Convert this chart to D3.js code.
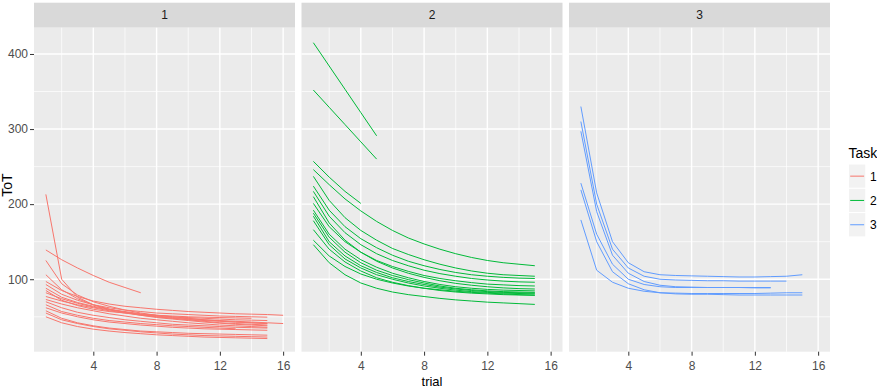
<!DOCTYPE html>
<html>
<head>
<meta charset="utf-8">
<script src="https://cdn.jsdelivr.net/npm/d3@7"></script>
<style>
  body { margin: 0; background: #fff; }
  svg { display: block; }
  text { font-family: "Liberation Sans Narrow", "Arial Narrow", "Liberation Sans", Arial, sans-serif; }
</style>
</head>
<body>
<div id="chart"></div>
<script>

// trial numbers, each series starts at trial 1
var trials = [1, 2, 3, 4, 5, 6, 7, 8, 9, 10, 11, 12, 13, 14, 15, 16];
var tasks = ["1", "2", "3"];
var taskColors = ["#F8766D", "#00BA38", "#619CFF"];
var xTicks = [4, 8, 12, 16];
var xMinor = [2, 6, 10, 14];
var yTicks = [100, 200, 300, 400];
var yMinor = [50, 150, 250, 350];

// ToT per participant, task 1
var task1 = [
  [213, 100, 76, 66, 60, 56, 53, 50, 48, 46.5, 45, 44, 43, 42, 41],
  [139, 126, 115, 105, 96, 89, 82],
  [125, 94, 79, 70, 64, 59, 55, 52, 50, 48, 46, 44.5, 43, 42, 41],
  [106, 86, 74, 66, 60, 56, 52, 49, 47, 45, 43, 41.5, 40, 39, 38],
  [97, 85, 77, 71, 67, 64, 62, 60, 58.5, 57, 56, 55, 54, 53.5, 53, 52],
  [93, 80, 72, 66, 62, 59, 57, 55, 54, 53, 52, 51, 50.5, 50, 49.5],
  [88, 76, 69, 64, 60, 57, 54, 52, 50, 49, 48, 47, 46, 45.5, 45],
  [85, 72, 65, 60, 57, 55, 53, 52, 51, 50, 49.5, 49, 48.5, 48],
  [82, 74, 68, 63, 59, 56, 53, 51, 49, 47.5, 46, 45, 44, 43, 42, 41],
  [77, 71, 66, 62, 58, 55, 52, 50, 48, 46, 44, 42, 41, 40, 39],
  [73, 67, 62, 58, 54, 51, 48, 46, 44, 42, 40.5, 39, 38, 37, 36],
  [70, 62, 56, 52, 49, 46, 44, 42, 40, 39, 38, 37, 36, 35.5, 35],
  [66, 57, 52, 48, 45, 43, 41, 39.5, 38, 37, 36, 35, 34],
  [62, 55, 50, 46, 43, 41, 39, 37.5, 36, 35, 34, 33.5, 33, 32.5, 32],
  [58, 48, 42, 38, 35, 33, 31, 30, 29, 28, 27.5, 27, 26.5, 26, 25.5],
  [55, 46, 41, 37, 34, 32, 30, 28.5, 27, 26, 25, 24.5, 24, 23.5, 23],
  [50, 42, 37, 33.5, 31, 29, 27.5, 26, 25, 24, 23, 22.5, 22, 21.5, 21]
];

// task 2
var task2 = [
  [415, 384, 353, 322, 291],
  [352, 329, 306, 283, 260],
  [257, 236, 217, 201],
  [246, 226, 207, 191, 177, 165, 155, 147, 140, 134, 129, 125, 122, 120, 118],
  [237, 205, 182, 165, 152, 141, 133, 126, 120, 115, 111, 108, 106, 105, 104],
  [224, 192, 170, 154, 142, 132, 124, 118, 113, 109, 106, 104, 102.5, 101.5, 101],
  [217, 184, 162, 146, 134, 125, 118, 112, 107.5, 104, 101, 99, 97.5, 96.5, 96],
  [210, 175, 152, 136, 124, 115, 108, 102.5, 98, 94.5, 92, 90, 88.5, 87.5, 87],
  [201, 170, 150, 136, 125, 117, 110.5, 105, 101, 98, 95.5, 93.5, 92.5, 91.5, 91],
  [192, 160, 140, 126, 116, 108, 102, 97, 93, 90, 88, 86.5, 85.5, 85, 84.5],
  [188, 156, 136, 122, 112, 105, 99.5, 95, 91, 88, 86, 84.5, 83.5, 83, 82.5],
  [184, 150, 131, 118, 109, 102, 97, 93, 89.5, 87, 85, 83.5, 82.5, 82, 81.5],
  [178, 146, 127, 115, 106, 100, 95, 91, 88, 85.5, 83.5, 82.5, 81.5, 81, 80.5],
  [166, 140, 123, 111, 102, 96, 91.5, 88, 85, 83, 81.5, 80.5, 79.5, 79, 78.5],
  [152, 131, 117, 107, 100, 95, 91, 88, 86, 84, 82.5, 81.5, 80.5, 79.5, 79],
  [146, 122, 106, 95, 88, 83, 79.5, 77, 74.5, 72.5, 71, 69.5, 68.5, 67.5, 66.5]
];

// task 3
var task3 = [
  [330, 215, 150, 122, 110, 106, 105, 104.5, 104, 103.5, 103, 103, 103.5, 104, 106],
  [310, 200, 140, 115, 104, 100, 99, 98.5, 98, 98, 97.5, 97.5, 97.5, 97.5],
  [297, 190, 132, 108, 97, 92, 90, 89.5, 89, 89, 89, 89, 89],
  [228, 160, 120, 100, 93, 90, 89, 89, 89, 89, 89, 88.5, 88.5],
  [219, 150, 110, 94, 86, 82, 80.5, 80, 80, 79.5, 79, 79, 79, 79, 79],
  [179, 112, 96, 88, 84, 82, 81.5, 81, 81, 81, 81, 81, 81.5, 82, 82]
];

var taskData = [task1, task2, task3];

var W = 877, H = 388;
var panelLeft = 34, panelW = 261, panelGap = 6.5;
var stripTop = 2.7, stripH = 25, panelTop = stripTop + stripH, panelBottom = 351.7;
var panelH = panelBottom - panelTop;

var svg = d3.select("#chart").append("svg")
    .attr("width", W)
    .attr("height", H);

var x = d3.scaleLinear().domain([0.25, 16.75]).range([0, panelW]);
var y = d3.scaleLinear().domain([3.5, 435]).range([panelH, 0]);

var line = d3.line()
    .x(function(d, i) { return x(trials[i]); })
    .y(function(d) { return y(d); });

tasks.forEach(function(task, k) {
  var px = panelLeft + k * (panelW + panelGap);

  // strip
  svg.append("rect")
      .attr("x", px).attr("y", stripTop)
      .attr("width", panelW).attr("height", stripH)
      .attr("fill", "#D9D9D9");
  svg.append("text")
      .attr("x", px + panelW / 2).attr("y", stripTop + stripH / 2 + 4)
      .attr("text-anchor", "middle")
      .style("font-size", "12px")
      .attr("fill", "#1A1A1A")
      .text(task);

  var g = svg.append("g").attr("transform", "translate(" + px + "," + panelTop + ")");

  g.append("rect")
      .attr("width", panelW).attr("height", panelH)
      .attr("fill", "#EBEBEB");

  // grid
  g.selectAll(".ymin").data(yMinor).enter().append("line")
      .attr("x1", 0).attr("x2", panelW)
      .attr("y1", function(d) { return y(d); }).attr("y2", function(d) { return y(d); })
      .attr("stroke", "#fff").attr("stroke-width", 0.7);
  g.selectAll(".xmin").data(xMinor).enter().append("line")
      .attr("y1", 0).attr("y2", panelH)
      .attr("x1", function(d) { return x(d); }).attr("x2", function(d) { return x(d); })
      .attr("stroke", "#fff").attr("stroke-width", 0.7);
  g.selectAll(".ymaj").data(yTicks).enter().append("line")
      .attr("x1", 0).attr("x2", panelW)
      .attr("y1", function(d) { return y(d); }).attr("y2", function(d) { return y(d); })
      .attr("stroke", "#fff").attr("stroke-width", 1.4);
  g.selectAll(".xmaj").data(xTicks).enter().append("line")
      .attr("y1", 0).attr("y2", panelH)
      .attr("x1", function(d) { return x(d); }).attr("x2", function(d) { return x(d); })
      .attr("stroke", "#fff").attr("stroke-width", 1.4);

  // lines
  g.selectAll(".tot").data(taskData[k]).enter().append("path")
      .attr("d", line)
      .attr("fill", "none")
      .attr("stroke", taskColors[k])
      .attr("stroke-width", 1);

  // x axis
  var xa = g.append("g")
      .attr("transform", "translate(0," + panelH + ")")
      .call(d3.axisBottom(x).tickValues(xTicks).tickSize(4).tickPadding(6));
  xa.select(".domain").remove();
  xa.selectAll("line").attr("stroke", "#333333");
  xa.selectAll("text").attr("fill", "#4D4D4D").style("font-size", "12px")
      .style("font-family", null);

  if (k === 0) {
    var ya = g.append("g")
        .call(d3.axisLeft(y).tickValues(yTicks).tickSize(4).tickPadding(2));
    ya.select(".domain").remove();
    ya.selectAll("line").attr("stroke", "#333333");
    ya.selectAll("text").attr("fill", "#4D4D4D").style("font-size", "12px")
        .style("font-family", null);
  }
});

// axis titles
svg.append("text")
    .attr("x", panelLeft + (3 * panelW + 2 * panelGap) / 2)
    .attr("y", 386)
    .attr("text-anchor", "middle")
    .style("font-size", "13px")
    .attr("fill", "#000")
    .text("trial");

svg.append("text")
    .attr("transform", "translate(12," + 185 + ") rotate(-90)")
    .attr("text-anchor", "middle")
    .style("font-size", "14px")
    .attr("fill", "#000")
    .text("ToT");

// legend
var lg = svg.append("g").attr("transform", "translate(848.5,0)");
lg.append("text")
    .attr("x", 0).attr("y", 158)
    .style("font-size", "14px")
    .attr("fill", "#000")
    .text("Task");

tasks.forEach(function(task, k) {
  var ky = 164 + k * 24.3;
  lg.append("rect")
      .attr("x", 0).attr("y", ky)
      .attr("width", 17.3).attr("height", 24.3)
      .attr("fill", "#F2F2F2")
      .attr("stroke", "#fff").attr("stroke-width", 1);
  lg.append("line")
      .attr("x1", 1.7).attr("x2", 15.6)
      .attr("y1", ky + 12.15).attr("y2", ky + 12.15)
      .attr("stroke", taskColors[k]).attr("stroke-width", 1);
  lg.append("text")
      .attr("x", 21.5).attr("y", ky + 16.5)
      .style("font-size", "12px")
      .attr("fill", "#000")
      .text(task);
});

</script>
</body>
</html>
